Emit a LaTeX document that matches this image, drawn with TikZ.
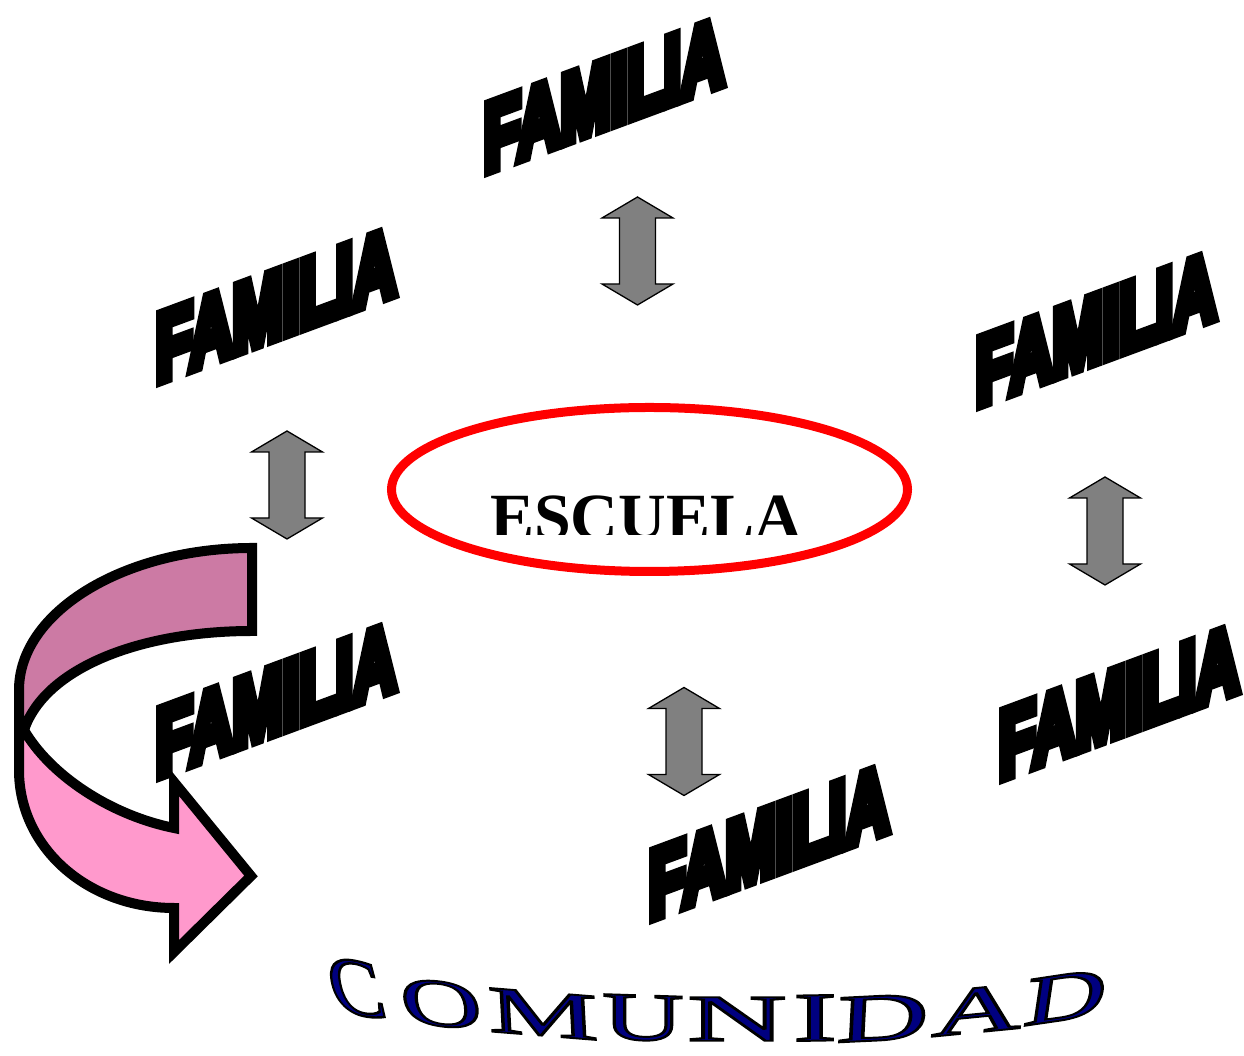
\documentclass[tikz,border=0pt]{standalone}
\usepackage{fontspec}
\usetikzlibrary{shapes.geometric}
\setmainfont{Liberation Serif}
\newfontfamily\famfont{Liberation Sans}[UprightFont={* Bold}]
\newfontfamily\comfont{Liberation Serif}
\definecolor{arrgray}{RGB}{128,128,128}
\definecolor{mauvec}{RGB}{204,122,164}
\definecolor{pinkc}{RGB}{255,153,204}
\definecolor{navyc}{RGB}{0,0,128}
\definecolor{redc}{RGB}{255,0,0}
% text outline on/off (fill + stroke render mode)
\newcommand\heavyon{\special{pdf:literal direct 2 Tr 0 j 2 M 13 w}}
\newcommand\outlineon{\special{pdf:literal direct 2 Tr 0 G 0 j 2 M 2 w}}
\newcommand\strokeoff{\special{pdf:literal direct 0 Tr}}
\newcommand\famword[3]{%
  \begin{scope}[shift={(#2,#3)},cm={0.6,0.222,0,0.95,(0,0)}]
    \node[famtxt] (#1) at (0,0) {\heavyon FAMILIA\strokeoff};
  \end{scope}}
\newcommand\comlet[8]{%
  \begin{scope}[shift={(#2,#3)},cm={#4,#5,#6,#7,(0,0)}]
    \node[comfill] (#1) at (0,0) {\outlineon #8\strokeoff};
  \end{scope}}
\tikzset{
  dblarr/.pic={\path[dblarrow] (0,54) -- (35.5,33) -- (18,33) -- (18,-33) -- (35.5,-33) -- (0,-54) -- (-35.5,-33) -- (-18,-33) -- (-18,33) -- (-35.5,33) -- cycle;}
}
\begin{document}
\begin{tikzpicture}[x=1pt,y=1pt,
  famtxt/.style={anchor=base west,inner sep=0pt,outer sep=0pt,transform shape,font=\famfont\fontsize{100}{100}\selectfont},
  dblarrow/.style={fill=arrgray,draw=black,line width=1.3pt,line join=miter},
  ribbon/.style={draw=black,line width=10pt,line join=miter,miter limit=10},
  comfill/.style={inner sep=0pt,outer sep=0pt,anchor=center,transform shape,text=navyc,font=\comfont\fontsize{70}{70}\selectfont},
  ring/.style={draw=redc,line width=9pt,ellipse,inner sep=0pt,minimum width=516pt,minimum height=164pt}
]
\fill[white] (0,0) rectangle (1244,1056);
\useasboundingbox (0,0) rectangle (1244,1056);

% curved pink arrow
\path[ribbon,fill=mauvec] (252,508) .. controls (124,508) and (19,444) .. (19,366) -- (19,326) -- (24,326) .. controls (45,388) and (140,425) .. (252,425) -- cycle;
\path[ribbon,fill=pinkc] (24,326) .. controls (50,281) and (110,241) .. (174,228) -- (174,274) -- (251,180) -- (174,104) -- (174,148) .. controls (88,148) and (19,208) .. (19,286) -- (19,326) -- cycle;

% school
\node[ring] (escring) at (649.5,566.5) {};
\begin{scope}
  \clip (0,521) rectangle (1244,1056);
  \node[anchor=base,inner sep=0pt,font=\bfseries\fontsize{66}{66}\selectfont] (escuela) at (646,516) {ESCUELA};
\end{scope}

% double arrows
\pic at (637.5,805) {dblarr};
\pic at (287,571) {dblarr};
\pic at (1105,525) {dblarr};
\pic at (684,314.5) {dblarr};

% families
\famword{fam1}{484}{884}
\famword{fam2}{156}{674}
\famword{fam3}{976}{650}
\famword{fam4}{156}{279}
\famword{fam5}{999}{277}
\famword{fam6}{649}{137}

% community
\comlet{c1}{356}{68}{1.15}{-0.17}{-0.3}{1.2}{C}
\comlet{c2}{441}{52}{1.6}{-0.16}{-0.15}{0.97}{O}
\comlet{c3}{543}{42}{1.75}{-0.14}{-0.05}{0.95}{M}
\comlet{c4}{643}{38}{1.6}{-0.05}{0}{0.97}{U}
\comlet{c5}{737}{37}{1.95}{0}{0}{0.95}{N}
\comlet{c6}{815}{38}{1.85}{0.03}{0}{0.99}{I}
\comlet{c7}{883}{38}{1.8}{0.09}{0.05}{0.97}{D}
\comlet{c8}{978}{46}{1.75}{0.17}{0.1}{0.97}{A}
\comlet{c9}{1066}{59}{1.6}{0.24}{0.15}{1.01}{D}
\end{tikzpicture}
\end{document}
